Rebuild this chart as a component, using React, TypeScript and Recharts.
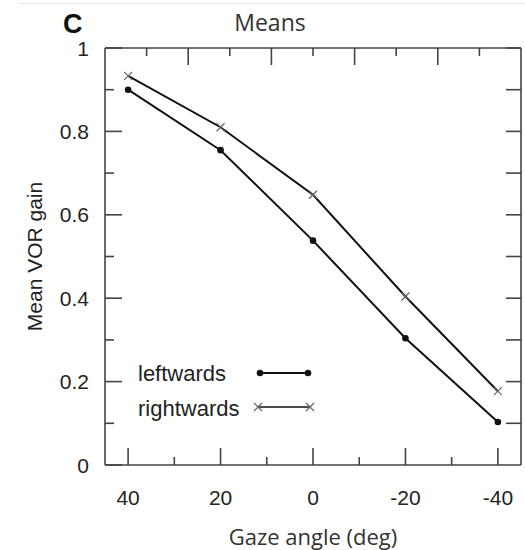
import React from "react";
import { LineChart, Line, XAxis, YAxis, Legend } from "recharts";

// Gaze angle (deg) at which VOR gain was measured
const angles = [40, 20, 0, -20, -40];
// Mean VOR gain per head-rotation direction
const leftwards = [0.9, 0.755, 0.538, 0.304, 0.103];
const rightwards = [0.933, 0.81, 0.648, 0.404, 0.177];

const bottomTicks = [40, 30, 20, 10, 0, -10, -20, -30, -40];
const topTicks = [36, 27, 18, 9, 0, -9, -18, -27, -36];
const yTicks = [0, 0.1, 0.2, 0.3, 0.4, 0.5, 0.6, 0.7, 0.8, 0.9, 1];
const yTickLabels = ["0", "", "0.2", "", "0.4", "", "0.6", "", "0.8", "", "1"];

const data = angles.map((a, i) => ({
  angle: a,
  left: leftwards[i],
  right: rightwards[i],
  frame: 0.5,
}));

const FRAME = "#444";
const LINE = "#111";
const ARIAL = "'Liberation Sans', Arial, sans-serif";
const MYRIAD = "'Open Sans', sans-serif";

const BottomTick = (props: any) => {
  const { x, y, payload } = props;
  const major = payload.value % 20 === 0;
  return (
    <g>
      <line x1={x} y1={y} x2={x} y2={y - (major ? 17 : 8)} stroke={FRAME} strokeWidth={1.6} />
      {major && (
        <text x={x} y={y + 40} textAnchor="middle" fontFamily={ARIAL} fontSize={21} fill="#222">
          {payload.value}
        </text>
      )}
    </g>
  );
};

const TopTick = (props: any) => {
  const { x, y, index } = props;
  const long = index % 2 === 1;
  return <line x1={x} y1={y} x2={x} y2={y + (long ? 17 : 8)} stroke={FRAME} strokeWidth={1.6} />;
};

const LeftTick = (props: any) => {
  const { x, y, index } = props;
  const major = index % 2 === 0;
  return (
    <g>
      <line x1={x} y1={y} x2={x + (major ? 17 : 9)} y2={y} stroke={FRAME} strokeWidth={1.6} />
      {major && (
        <text x={x - 16} y={y} dy="0.36em" textAnchor="end" fontFamily={ARIAL} fontSize={21} fill="#222">
          {yTickLabels[index]}
        </text>
      )}
    </g>
  );
};

const RightTick = (props: any) => {
  const { x, y } = props;
  return <line x1={x} y1={y} x2={x - 15} y2={y} stroke={FRAME} strokeWidth={1.6} />;
};

const FilledDot = (props: any) => {
  const { cx, cy } = props;
  return <circle cx={cx} cy={cy} r={3.3} fill={LINE} />;
};

const CrossDot = (props: any) => {
  const { cx, cy } = props;
  const s = 4;
  return (
    <path
      d={`M${cx - s},${cy - s}L${cx + s},${cy + s}M${cx - s},${cy + s}L${cx + s},${cy - s}`}
      stroke="#666"
      strokeWidth={1.2}
      fill="none"
    />
  );
};

const LegendBox = () => (
  <svg width={200} height={80} style={{ display: "block" }}>
    <text x={10} y={31} fontFamily={ARIAL} fontSize={22} fill="#222">leftwards</text>
    <line x1={132} y1={23} x2={180} y2={23} stroke={LINE} strokeWidth={2} />
    <circle cx={132} cy={23} r={3.3} fill={LINE} />
    <circle cx={180} cy={23} r={3.3} fill={LINE} />
    <text x={10} y={66} fontFamily={ARIAL} fontSize={22} fill="#222">rightwards</text>
    <line x1={130} y1={57} x2={182} y2={57} stroke={LINE} strokeWidth={1.5} />
    <path d="M126,53L134,61M126,61L134,53M178,53L186,61M178,61L186,53" stroke="#666" strokeWidth={1.2} />
  </svg>
);

export default function App() {
  return (
    <div style={{ position: "absolute", left: 0, top: 0, width: 525, height: 550, background: "#fff" }}>
      <div style={{ position: "absolute", left: 20, top: 3, width: 505, height: 1, background: "#e2e2e2" }} />
      <svg width={525} height={48} style={{ position: "absolute", left: 0, top: 0 }}>
        <text x={63} y={33} fontFamily={ARIAL} fontWeight="bold" fontSize={27} fill="#111">C</text>
        <text x={270} y={31} textAnchor="middle" fontFamily={MYRIAD} fontSize={23} fill="#333">Means</text>
      </svg>
      <LineChart
        width={525}
        height={550}
        data={data}
        margin={{ top: 0, right: 0, bottom: 0, left: 0 }}
        style={{ position: "absolute", left: 0, top: 0 }}
      >
        <XAxis
          xAxisId="bottom"
          dataKey="angle"
          type="number"
          domain={[-45, 45]}
          reversed
          allowDataOverflow
          ticks={bottomTicks}
          interval={0}
          tickSize={0}
          tickMargin={0}
          tickLine={false}
          tick={<BottomTick />}
          axisLine={{ stroke: FRAME, strokeWidth: 1.6 }}
          height={85}
          label={{
            value: "Gaze angle (deg)",
            position: "insideBottom",
            offset: 5,
            fontFamily: MYRIAD,
            fontSize: 22,
            fill: "#333",
          }}
        />
        <XAxis
          xAxisId="top"
          orientation="top"
          dataKey="angle"
          type="number"
          domain={[-45, 45]}
          reversed
          allowDataOverflow
          ticks={topTicks}
          interval={0}
          tickSize={0}
          tickMargin={0}
          tickLine={false}
          tick={<TopTick />}
          axisLine={{ stroke: FRAME, strokeWidth: 1.6 }}
          height={48}
        />
        <YAxis
          yAxisId="left"
          type="number"
          domain={[0, 1]}
          allowDataOverflow
          ticks={yTicks}
          interval={0}
          tickSize={0}
          tickMargin={0}
          tickLine={false}
          tick={<LeftTick />}
          axisLine={{ stroke: FRAME, strokeWidth: 1.6 }}
          width={105}
          label={{
            value: "Mean VOR gain",
            angle: -90,
            position: "insideLeft",
            offset: 0,
            dx: 35,
            fontFamily: ARIAL,
            fontSize: 21,
            fill: "#222",
            style: { textAnchor: "middle" },
          }}
        />
        <YAxis
          yAxisId="right"
          orientation="right"
          type="number"
          domain={[0, 1]}
          allowDataOverflow
          ticks={yTicks.slice(1)}
          interval={0}
          tickSize={0}
          tickMargin={0}
          tickLine={false}
          tick={<RightTick />}
          axisLine={{ stroke: FRAME, strokeWidth: 1.6 }}
          width={4}
        />
        <Legend
          layout="vertical"
          align="center"
          verticalAlign="middle"
          content={<LegendBox />}
          wrapperStyle={{ left: 128, top: 350, width: 200 }}
        />
        <Line
          xAxisId="top"
          yAxisId="right"
          dataKey="frame"
          stroke="none"
          dot={false}
          activeDot={false}
          legendType="none"
          isAnimationActive={false}
        />
        <Line
          xAxisId="bottom"
          yAxisId="left"
          dataKey="left"
          name="leftwards"
          stroke={LINE}
          strokeWidth={2}
          dot={<FilledDot />}
          activeDot={false}
          isAnimationActive={false}
        />
        <Line
          xAxisId="bottom"
          yAxisId="left"
          dataKey="right"
          name="rightwards"
          stroke={LINE}
          strokeWidth={2}
          dot={<CrossDot />}
          activeDot={false}
          isAnimationActive={false}
        />
      </LineChart>
    </div>
  );
}
